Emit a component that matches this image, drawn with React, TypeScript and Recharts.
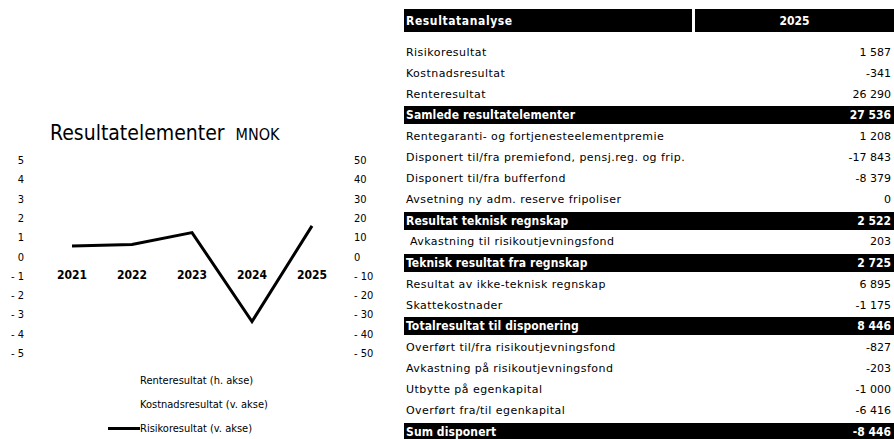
import React from 'react';
import { Bar, ComposedChart, Legend, Line, XAxis, YAxis } from 'recharts';

const years = ['2021', '2022', '2023', '2024', '2025'];
const risikoresultat = [0.55, 0.62, 1.24, -3.37, 1.587];
const kostnadsresultat: (number | null)[] = [null, null, null, null, null];
const renteresultat: (number | null)[] = [null, null, null, null, null];
const leftTicks = [5, 4, 3, 2, 1, 0, -1, -2, -3, -4, -5];
const rightTicks = [50, 40, 30, 20, 10, 0, -10, -20, -30, -40, -50];

const tableLabels = [
  'Risikoresultat',
  'Kostnadsresultat',
  'Renteresultat',
  'Samlede resultatelementer',
  'Rentegaranti- og fortjenesteelementpremie',
  'Disponert til/fra premiefond, pensj.reg. og frip.',
  'Disponert til/fra bufferfond',
  'Avsetning ny adm. reserve fripoliser',
  'Resultat teknisk regnskap',
  '\u00a0Avkastning til risikoutjevningsfond',
  'Teknisk resultat fra regnskap',
  'Resultat av ikke-teknisk regnskap',
  'Skattekostnader',
  'Totalresultat til disponering',
  'Overført til/fra risikoutjevningsfond',
  'Avkastning på risikoutjevningsfond',
  'Utbytte på egenkapital',
  'Overført fra/til egenkapital',
  'Sum disponert',
];
const tableValues = [
  1587, -341, 26290, 27536, 1208, -17843, -8379, 0, 2522, 203, 2725, 6895, -1175, 8446, -827, -203, -1000,
  -6416, -8446,
];
const totalRows = [3, 8, 10, 13, 18];

const FONT = "'DejaVu Sans Condensed', 'DejaVu Sans', sans-serif";
const FONT_WIDE = "'DejaVu Sans', sans-serif";

const data = years.map((y, i) => ({
  year: y,
  risiko: risikoresultat[i],
  kostnad: kostnadsresultat[i],
  rente: renteresultat[i],
}));

const fmtAxis = (v: number) => (v < 0 ? `- ${Math.abs(v)}` : `${v}`);
const fmtNum = (v: number) => {
  const s = Math.abs(v)
    .toString()
    .replace(/\B(?=(\d{3})+(?!\d))/g, ' ');
  return v < 0 ? `-${s}` : s;
};

const LeftTick = ({ x, y, payload }: any) => (
  <text x={x - 10} y={y} dy={4} textAnchor='end' fontSize={11} fontFamily={FONT} fill='#000'>
    {fmtAxis(payload.value)}
  </text>
);

const RightTick = ({ x, y, payload }: any) => (
  <text x={x + 4} y={y} dy={4} textAnchor='start' fontSize={11} fontFamily={FONT} fill='#000'>
    {fmtAxis(payload.value)}
  </text>
);

const YearTick = ({ x, y, payload }: any) => (
  <text x={x} y={y - 82} textAnchor='middle' fontSize={12} fontWeight='bold' fontFamily={FONT} fill='#000'>
    {payload.value}
  </text>
);

const LegendContent = ({ payload }: any) => {
  const order = ['rente', 'kostnad', 'risiko'];
  const items = order.map((k) => (payload || []).find((p: any) => p.dataKey === k)).filter(Boolean);
  return (
    <div style={{ fontFamily: FONT, fontSize: 11, color: '#000' }}>
      {items.map((p: any) => (
        <div key={p.dataKey} style={{ height: 24, display: 'flex', alignItems: 'center' }}>
          <span
            style={{
              display: 'inline-block',
              width: 32,
              height: 3,
              background: p.dataKey === 'risiko' ? '#000' : 'transparent',
            }}
          />
          <span>{p.value}</span>
        </div>
      ))}
    </div>
  );
};

const ResultChart = () => (
  <div style={{ position: 'absolute', left: 0, top: 0, width: 390, height: 439 }}>
    <div
      style={{
        position: 'absolute',
        left: 50,
        top: 121,
        fontFamily: FONT,
        whiteSpace: 'nowrap',
        color: '#000',
        zIndex: 2,
      }}
    >
      <span style={{ fontSize: 21 }}>Resultatelementer</span>
      <span style={{ fontSize: 16, marginLeft: 11 }}>MNOK</span>
    </div>
    <ComposedChart width={390} height={439} data={data} margin={{ top: 160, right: 0, bottom: 66, left: 0 }}>
      <XAxis dataKey='year' height={20} axisLine={false} tickLine={false} tick={<YearTick />} interval={0} />
      <YAxis
        yAxisId='left'
        domain={[-5, 5]}
        ticks={leftTicks}
        width={42}
        axisLine={false}
        tickLine={false}
        tick={<LeftTick />}
        interval={0}
      />
      <YAxis
        yAxisId='right'
        orientation='right'
        domain={[-50, 50]}
        allowDataOverflow
        ticks={rightTicks}
        width={48}
        axisLine={false}
        tickLine={false}
        tick={<RightTick />}
        interval={0}
      />
      <Bar yAxisId='right' dataKey='rente' name='Renteresultat (h. akse)' fill='#fff' isAnimationActive={false} />
      <Bar yAxisId='left' dataKey='kostnad' name='Kostnadsresultat (v. akse)' fill='#fff' isAnimationActive={false} />
      <Line
        yAxisId='left'
        type='linear'
        dataKey='risiko'
        name='Risikoresultat (v. akse)'
        stroke='#000'
        strokeWidth={3}
        dot={false}
        isAnimationActive={false}
      />
      <Legend
        layout='horizontal'
        align='center'
        verticalAlign='middle'
        content={<LegendContent />}
        wrapperStyle={{ position: 'absolute', left: 108, top: 368, width: 220, height: 72 }}
      />
    </ComposedChart>
  </div>
);

const ResultTable = () => (
  <div style={{ position: 'absolute', left: 404, top: 9, width: 490, color: '#000' }}>
    <div style={{ display: 'flex', height: 23, fontSize: 12, fontWeight: 'bold', color: '#fff', fontFamily: FONT }}>
      <div
        style={{
          width: 286,
          background: '#000',
          display: 'flex',
          alignItems: 'center',
          paddingLeft: 2,
          letterSpacing: 0.6,
        }}
      >
        Resultatanalyse
      </div>
      <div
        style={{
          flex: 1,
          marginLeft: 3,
          background: '#000',
          display: 'flex',
          alignItems: 'center',
          justifyContent: 'center',
        }}
      >
        2025
      </div>
    </div>
    <div style={{ height: 9.5 }} />
    {tableLabels.map((label, i) => {
      const total = totalRows.includes(i);
      return (
        <div key={label} style={{ height: 21.1, display: 'flex', alignItems: 'center' }}>
          <div
            style={{
              width: '100%',
              height: 18,
              display: 'flex',
              alignItems: 'center',
              justifyContent: 'space-between',
              background: total ? '#000' : 'transparent',
              color: total ? '#fff' : '#000',
              fontFamily: total ? FONT : FONT_WIDE,
              fontSize: total ? 12 : 11,
              fontWeight: total ? 'bold' : 'normal',
              paddingLeft: 2,
              paddingRight: 3,
              boxSizing: 'border-box',
              whiteSpace: 'pre',
            }}
          >
            <span style={{ letterSpacing: total ? 0.1 : 0.45 }}>{label}</span>
            <span>{fmtNum(tableValues[i])}</span>
          </div>
        </div>
      );
    })}
  </div>
);

export default function App() {
  return (
    <div style={{ position: 'absolute', left: 0, top: 0, width: 894, height: 439, background: '#fff', overflow: 'hidden' }}>
      <ResultChart />
      <ResultTable />
    </div>
  );
}
